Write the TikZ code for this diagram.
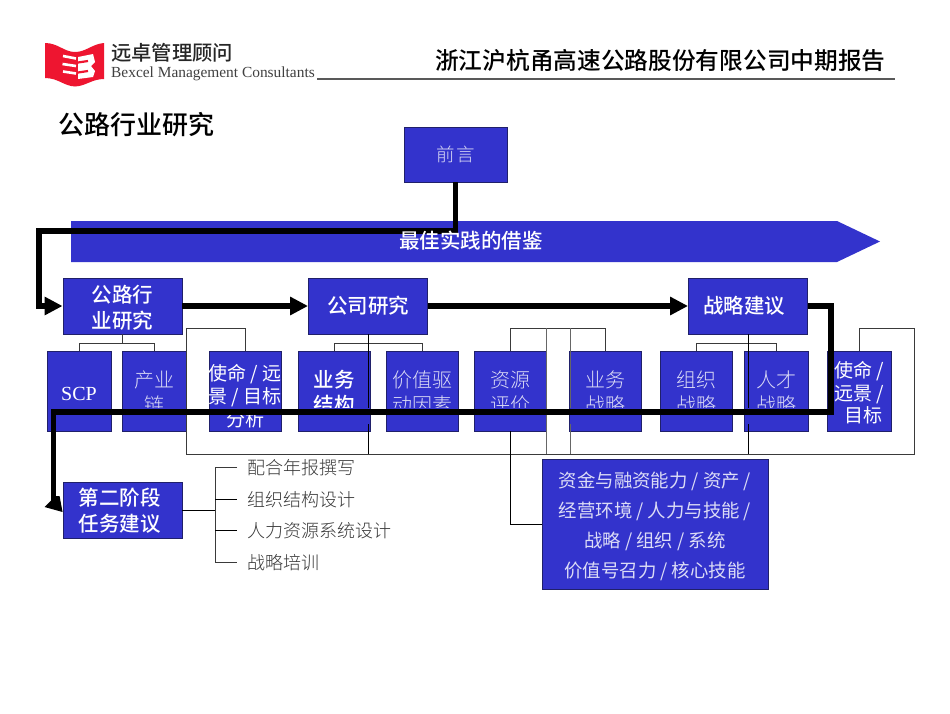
\documentclass[tikz,border=0pt]{standalone}
\usepackage{fontspec}
\usetikzlibrary{arrows.meta,calc}
\setmainfont{Noto Sans CJK SC}
\newfontfamily\cjklight[UprightFont={* Light}]{Noto Sans CJK SC}
\newfontfamily\cjkmed[UprightFont={* Medium}]{Noto Sans CJK SC}
\newfontfamily\latinserif{Liberation Serif}
\definecolor{bx}{HTML}{3333CC}
\definecolor{bxline}{HTML}{20206A}
\definecolor{thin}{HTML}{DCDCF6}
\definecolor{thinline}{HTML}{3A3A3A}
\definecolor{logored}{HTML}{EE1530}
\newcommand{\fs}[2]{\fontsize{#1}{#2}\selectfont}
% a taller first line, which moves the text down by half the amount
\newcommand{\padtop}[1]{\rule{0pt}{\dimexpr.86em+#1pt\relax}}
\tikzset{
  box/.style={draw=bxline,line width=0.9pt,fill=bx,inner sep=0pt,align=center},
  stage/.style={box,minimum width=119pt,minimum height=56pt,text=white,font=\cjkmed\fs{20.5}{26.5}},
  sub/.style={box,minimum height=80pt,text=thin,font=\cjklight\fs{20}{25}},
  subw/.style={sub,minimum width=72pt},
  subn/.style={sub,minimum width=64pt},
  link/.style={draw=thinline,line width=0.9pt},
  dlink/.style={draw=black,line width=1pt},
  flow/.style={draw=black,line width=5.5pt,miter limit=10},
  flowtip/.style={-{Triangle[length=18pt,width=17.5pt]}},
  side/.style={anchor=west,inner sep=0pt,text=black!78,font=\cjklight\fs{18}{20}},
}
\begin{document}
\begin{tikzpicture}[x=1pt,y=-1pt]
\useasboundingbox[fill=white] (0,0) rectangle (950,713);

% header
\fill[logored] (45,43) .. controls (58,43) and (64,52) .. (75,52) .. controls (86,52) and (92,44) .. (104,43)
  -- (104,79) .. controls (92,79) and (86,86) .. (75,86.5) .. controls (64,86) and (58,78) .. (45,78) -- cycle;
\draw[white,line width=2.6pt] (63,56) -- (76,58.5) (62.5,64) -- (76,66) (63,71.5) -- (76,73.5);
\fill[white] (78,57) -- (93,54) -- (95,62) -- (91,66) -- (95,71) -- (93,77) -- (78,79) -- cycle;
\draw[logored,line width=2.2pt] (78,62.5) -- (88,61) (78,72.5) -- (88,71);
\node[anchor=west,inner sep=0pt,text=black!85,font=\cjkmed\fs{20.3}{22}] (brand) at (111,53) {远卓管理顾问};
\node[anchor=west,inner sep=0pt,text=black!75,font=\latinserif\fs{15.4}{17}] (brandl) at (111,73.5) {Bexcel Management Consultants};
\coordinate (rulea) at (317,79);
\coordinate (ruleb) at (895,79);
\draw[draw=black!65,line width=1.4pt] (rulea) -- (ruleb);
\node[anchor=west,inner sep=0pt,text=black,font=\cjkmed\fs{23.7}{25}] (report) at (435,60) {浙江沪杭甬高速公路股份有限公司中期报告};
\node[anchor=west,inner sep=0pt,text=black,font=\cjkmed\fs{26}{28}] (title) at (58,125) {公路行业研究};

% banner
\fill[bx] (71,221) -- (837,221) -- (880,241.5) -- (837,262) -- (71,262) -- cycle;

% top nodes
\node[box,minimum width=103pt,minimum height=55pt,text=thin,font=\cjklight\fs{18.5}{20}] (pre) at (455.5,154.5) {前\hspace{1.5pt}言};
\node[stage] (t1) at (122.5,306) {\padtop{3}公路行\\业研究};
\node[stage] (t2) at (368,306) {公司研究};
\node[stage] (t3) at (748,306) {\hspace*{-8pt}战略建议};

% sub nodes
\node[subn,text=white,font=\latinserif\fs{20}{24}] (scp) at (79,391) {\padtop{1}SCP};
\node[subn] (ind) at (154,391) {\padtop{2}产业\\链};
\node[subw] (mis) at (245,391) {};
\node[inner sep=0pt,align=center,text=white,font=\fs{19}{23}] (mtx) at (245,396.5) {使命 / 远\\景 / 目标\\分析};
\node[subw,text=white,font=\cjkmed\fs{20.5}{25}] (str) at (334,391) {\padtop{2}业务\\结构};
\node[subw] (val) at (422,391) {\padtop{2}价值驱\\动因素};
\node[subw] (res) at (510.5,391) {\padtop{2}资源\\评价};
\node[subw] (bst) at (605.5,391) {\padtop{2}业务\\战略};
\node[subw] (org) at (696.5,391) {\padtop{2}组织\\战略};
\node[subn] (tal) at (776,391) {\padtop{2}人才\\战略};
\node[subn,text=white,font=\fs{19}{22.5}] (vis) at (859,391) {\padtop{4}使命 /\\远景 /\\\hspace*{0.5em}目标};

% thin connectors
\coordinate (ja) at (122.5,343);
\draw[link] (t1.south) -- (ja) (ja) -| (scp.north) (ja) -| (ind.north);
\coordinate (jb) at (368,343);
\draw[link] (jb) -| (str.north) (jb) -| (val.north);
\coordinate (jc) at (748,343);
\draw[link] (jc) -| (org.north) (jc) -| (tal.north);

\coordinate (oa) at (186,328);
\coordinate (ob) at (186,454);
\coordinate (oc) at (914,454);
\coordinate (od) at (914,328);
\draw[link] (mis.north) |- (oa) -- (ob) -- (oc) -- (od) -| (vis.north);
\coordinate (ra) at (510.5,328);
\coordinate (rb) at (605.5,328);
\draw[link] (res.north) -- (ra) -- (rb) -- (bst.north);
\coordinate (ga) at (546,328);
\coordinate (gb) at (546,454);
\coordinate (gc) at (570,328);
\coordinate (gd) at (570,454);
\draw[link,draw=black!60] (ga) -- (gb) (gc) -- (gd);
\coordinate (sa) at (368,454);
\coordinate (sb) at (748,454);
\draw[dlink] (t2.south) -- (sa) (t3.south) -- (sb);

% text hidden behind the flow line
\foreach \n in {ind,str,val,res,bst,org,tal}{
  \fill[bx] ($(\n.west |- 0,408)+(1,0)$) rectangle ($(\n.east |- 0,424)+(-1,0)$);
}

% lower nodes
\node[stage] (p2) at (122.5,510.5) {\hspace*{-6pt}第二阶段\\\hspace*{-6pt}任务建议};
\node[box,minimum width=226pt,minimum height=130pt,text=thin,font=\fs{18.4}{30}] (cap) at (655,524)
  {\padtop{4}资金与融资能力 / 资产 /\\经营环境 / 人力与技能 /\\战略 / 组织 / 系统\\价值号召力 / 核心技能};
\coordinate (ca) at (510.5,524);
\draw[dlink] (res.south) -- (ca) -- (cap.west);

% side list
\node[side] (l1) at (247,468) {配合年报撰写};
\node[side] (l2) at (247,499.5) {组织结构设计};
\node[side] (l3) at (247,531) {人力资源系统设计};
\node[side] (l4) at (247,563) {战略培训};
\coordinate (ta) at (215,510.5);
\coordinate (tb) at (215,467);
\coordinate (tc) at (215,562);
\coordinate (e1) at (237,467);
\coordinate (e2) at (237,499);
\coordinate (e3) at (237,530);
\coordinate (e4) at (237,562);
\draw[dlink] (p2.east) -- (ta);
\draw[link] (e1) -- (tb) -- (tc) -- (e4);
\draw[dlink] (e2 -| ta) -- (e2) (e3 -| ta) -- (e3);

% thick flow
\coordinate (fa) at (455.5,231);
\coordinate (fb) at (39,231);
\coordinate (fc) at (39,306);
\draw[flow,flowtip] (pre.south) -- (fa) -- (fb) -- (fc) -- (t1.west);
\draw[flow,flowtip] (t1.east) -- (t2.west);
\draw[flow,flowtip] (t2.east) -- (t3.west);
\coordinate (fd) at (831,306);
\coordinate (fe) at (831,412);
\coordinate (ff) at (53.5,412);
\coordinate (fg) at (53.5,504);
\draw[flow] (t3.east) -- (fd) -- (fe) -- (ff) -- (fg);
\fill[black] ($(p2.west)+(0,1.5)$) -- ++(-18,-5) -- ++(11,-11) -- ++(4,0) -- cycle;

% banner label on top of the line
\node[inner sep=0pt,text=white,font=\cjkmed\fs{20.5}{22}] (best) at (471,241) {最佳实践的借鉴};
\end{tikzpicture}
\end{document}
